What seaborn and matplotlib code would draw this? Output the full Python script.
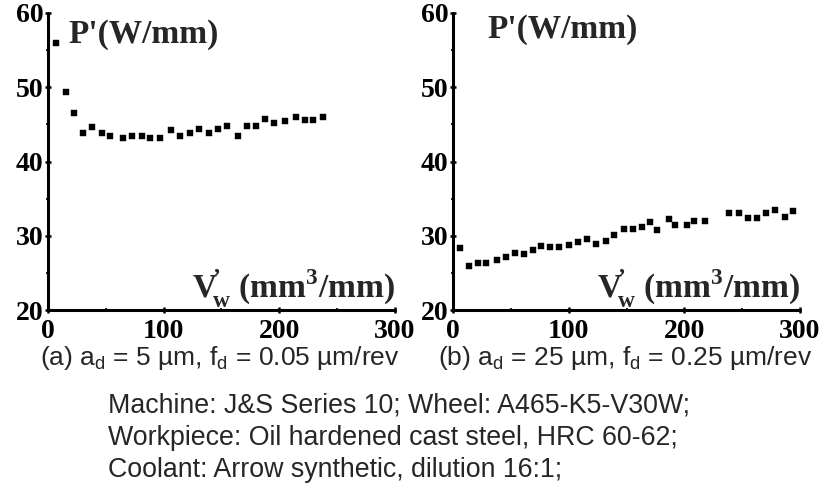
import numpy as np
import pandas as pd
import matplotlib
matplotlib.use("Agg")
import matplotlib.pyplot as plt
from matplotlib.ticker import MultipleLocator
import seaborn as sns

# Specific grinding power P' versus specific removed volume V'w
vol_a = [7, 15.6, 22.5, 30, 38, 47, 54, 65, 73, 81, 88, 96.5, 106, 114, 122.5,
         130.6, 139, 147, 155, 164, 172, 180, 188, 195, 205, 214, 222, 229.5, 237.6]
power_a = [55.9, 49.3, 46.5, 43.8, 44.7, 43.8, 43.4, 43.1, 43.4, 43.4, 43.1, 43.1,
           44.3, 43.4, 43.9, 44.4, 43.9, 44.4, 44.8, 43.4, 44.8, 44.8, 45.7, 45.2,
           45.5, 46.0, 45.6, 45.6, 46.0]

vol_b = [5.8, 13.8, 21.3, 28.8, 38, 45.5, 53.6, 61, 69, 76, 84, 92, 100, 107.8,
         115.8, 124, 132, 139.5, 147.5, 155.6, 163, 170.6, 176, 187, 192, 202, 208,
         218, 239, 247, 255, 262.5, 270.5, 278.5, 286.6, 294]
power_b = [28.4, 25.9, 26.3, 26.3, 26.8, 27.2, 27.7, 27.5, 28.1, 28.6, 28.5, 28.5,
           28.8, 29.2, 29.6, 28.9, 29.3, 30.1, 30.9, 30.9, 31.2, 31.8, 30.8, 32.2,
           31.5, 31.5, 32.0, 32.0, 33.0, 33.0, 32.4, 32.4, 33.0, 33.5, 32.5, 33.4]

x_ticks = [0, 100, 200, 300]
y_ticks = [20, 30, 40, 50, 60]

captions = [
    r"(a) a$_{\mathsf{d}}$ = 5 µm, f$_{\mathsf{d}}$ = 0.05 µm/rev",
    r"(b) a$_{\mathsf{d}}$ = 25 µm, f$_{\mathsf{d}}$ = 0.25 µm/rev",
]
notes = [
    "Machine: J&S Series 10; Wheel: A465-K5-V30W;",
    "Workpiece: Oil hardened cast steel, HRC 60-62;",
    "Coolant: Arrow synthetic, dilution 16:1;",
]
ylabel = "P'(W/mm)"
xlabel = r"$\mathbf{V}^{\!\mathbf{’}}_{\!\mathbf{w}}$ (mm$^{\mathbf{3}}$/mm)"

sns.set_theme(style="ticks")
plt.rcParams["font.family"] = ["Liberation Serif", "DejaVu Serif"]
plt.rcParams["mathtext.fontset"] = "custom"
plt.rcParams["mathtext.rm"] = "Liberation Serif"
plt.rcParams["mathtext.bf"] = "Liberation Serif:bold"
plt.rcParams["mathtext.sf"] = "Liberation Sans"

W, H = 824, 488
fig = plt.figure(figsize=(W / 100, H / 100), dpi=100)
fig.patch.set_facecolor("white")

panels = [
    (pd.DataFrame({"vol": vol_a, "power": power_a}), 48, (68, 43)),
    (pd.DataFrame({"vol": vol_b, "power": power_b}), 453, (487, 38)),
]

serif = ["Liberation Serif", "DejaVu Serif"]
sans = ["Liberation Sans", "DejaVu Sans"]

for i, (df, left_px, ylab_pos) in enumerate(panels):
    ax = fig.add_axes([left_px / W, 1 - 310 / H, 347 / W, 297 / H])
    ax.set_facecolor("white")
    sns.scatterplot(data=df, x="vol", y="power", ax=ax, marker="s", s=24,
                    color="black", edgecolor="black", linewidth=0.3)
    ax.set_xlim(0, 300)
    ax.set_ylim(20, 60)
    ax.set_xticks(x_ticks)
    ax.set_yticks(y_ticks)
    ax.xaxis.set_minor_locator(MultipleLocator(50))
    ax.yaxis.set_minor_locator(MultipleLocator(5))
    ax.set_xlabel("")
    ax.set_ylabel("")
    for side in ("top", "right"):
        ax.spines[side].set_visible(False)
    for side in ("left", "bottom"):
        ax.spines[side].set_linewidth(2.2)
        ax.spines[side].set_color("black")
        ax.spines[side].set_capstyle("round")
    ax.tick_params(which="major", direction="inout", length=5, width=1.8,
                   color="black", labelsize=20)
    ax.tick_params(which="minor", direction="inout", length=3, width=1.2,
                   color="black")
    ax.tick_params(axis="x", pad=4)
    ax.tick_params(axis="y", pad=1)
    for lab in ax.get_xticklabels() + ax.get_yticklabels():
        lab.set_fontweight("bold")
        lab.set_family(serif)
        lab.set_color("black")

    # axis titles placed inside the plotting area
    fig.text(ylab_pos[0] / W, 1 - ylab_pos[1] / H, ylabel, fontsize=24,
             fontweight="bold", family=serif, ha="left", va="baseline")
    fig.text((left_px + 347) / W, 1 - 298 / H, xlabel, fontsize=24,
             fontweight="bold", family=serif, ha="right", va="baseline")

    # panel caption
    fig.text((left_px + 172) / W, 1 - 365 / H, captions[i], fontsize=19,
             family=sans, ha="center", va="baseline")

for k, line in enumerate(notes):
    fig.text(108 / W, 1 - (413 + 32 * k) / H, line, fontsize=19.3,
             family=sans, ha="left", va="baseline")

fig.savefig("out.png", dpi=100, facecolor="white")
